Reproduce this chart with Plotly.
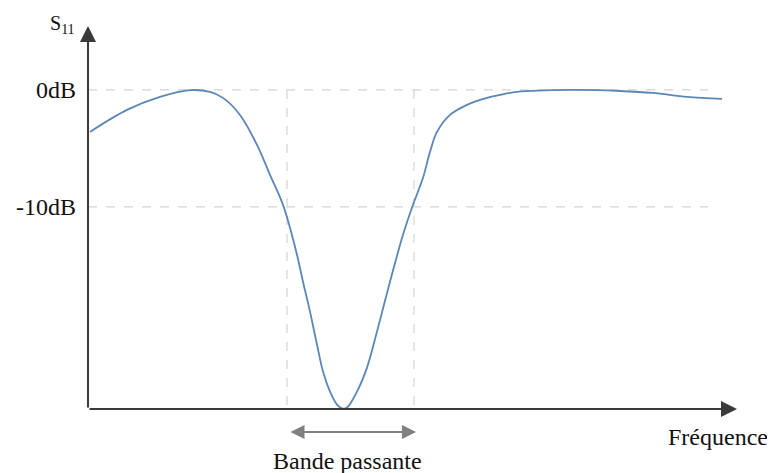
import plotly.graph_objects as go

# Frequency (arbitrary units) and S11 (dB)
freq = [2, 39, 72, 102, 122, 135, 152, 169, 182, 195, 202, 209, 215, 222, 229, 235,
        242, 249, 255, 259, 269, 279, 289, 302, 315, 325, 335, 342, 349, 362, 379,
        399, 412, 429, 482, 532, 565, 599, 634]
s11_db = [-3.59, -1.71, -0.60, -0.02, -0.17, -0.68, -2.14, -4.70, -7.26, -9.83,
          -11.79, -14.10, -16.41, -18.97, -21.79, -24.10, -25.81, -26.92, -27.26,
          -27.18, -25.81, -23.76, -20.68, -16.41, -12.39, -9.83, -7.52, -5.30, -3.59,
          -2.14, -1.28, -0.68, -0.43, -0.17, 0.0, -0.09, -0.26, -0.60, -0.77]

ref_levels = [0, -10]
ref_labels = ["0dB", "-10dB"]
band_edges = [199, 326]

X_MAX = 649
Y_MIN, Y_MAX = -27.3, 5.47
HLINE_END = 620

fig = go.Figure()
fig.add_trace(go.Scatter(x=freq, y=s11_db, mode="lines",
                         line=dict(color="#5a86b8", width=1.8, shape="spline", smoothing=1.0),
                         hoverinfo="skip"))

serif = "Liberation Serif, Times New Roman, serif"
shapes = []
for lv in ref_levels:
    shapes.append(dict(type="line", xref="x", yref="y", x0=0, x1=HLINE_END, y0=lv, y1=lv,
                       line=dict(color="#d4d4d4", width=1.2, dash="dash"), layer="below"))
for be in band_edges:
    shapes.append(dict(type="line", xref="x", yref="y", x0=be, x1=be, y0=0, y1=Y_MIN,
                       line=dict(color="#d4d4d4", width=1.2, dash="dash"), layer="below"))

annotations = []
# axes with arrows
annotations.append(dict(x=X_MAX, y=Y_MIN, ax=0, ay=Y_MIN, xref="x", yref="y", axref="x", ayref="y",
                        text="", showarrow=True, arrowhead=2, arrowsize=1.6, arrowwidth=2,
                        arrowcolor="#3a3a3a"))
annotations.append(dict(x=0, y=Y_MAX, ax=0, ay=Y_MIN, xref="x", yref="y", axref="x", ayref="y",
                        text="", showarrow=True, arrowhead=2, arrowsize=1.6, arrowwidth=2,
                        arrowcolor="#3a3a3a"))
for lv, lab in zip(ref_levels, ref_labels):
    annotations.append(dict(x=-0.0154, y=lv, xref="paper", yref="y", text=lab, showarrow=False,
                            xanchor="right", yanchor="middle",
                            font=dict(family=serif, size=24, color="#111")))
annotations.append(dict(x=-0.04, y=1.005, xref="paper", yref="paper", text="S<sub>11</sub>",
                        showarrow=False, xanchor="center", yanchor="middle",
                        font=dict(family=serif, size=20, color="#111")))
annotations.append(dict(x=0.971, y=-0.073, xref="paper", yref="paper", text="Fréquence",
                        showarrow=False, xanchor="center", yanchor="middle",
                        font=dict(family=serif, size=24, color="#111")))
# band arrow
annotations.append(dict(x=band_edges[1] + 2, y=-0.06, ax=band_edges[0] + 2, ay=0,
                        xref="x", yref="paper", axref="x", ayref="pixel",
                        text="", showarrow=True, arrowhead=2, arrowside="end+start",
                        arrowsize=1.4, arrowwidth=2, arrowcolor="#808080"))
annotations.append(dict(x=0.4006, y=-0.136, xref="paper", yref="paper", text="Bande passante",
                        showarrow=False, xanchor="center", yanchor="middle",
                        font=dict(family=serif, size=24, color="#111")))

fig.update_layout(
    width=767, height=465,
    margin=dict(l=80, r=38, t=18, b=64),
    paper_bgcolor="white", plot_bgcolor="white",
    showlegend=False,
    xaxis=dict(range=[0, X_MAX], visible=False, fixedrange=True),
    yaxis=dict(range=[Y_MIN, Y_MAX], visible=False, fixedrange=True),
    shapes=shapes, annotations=annotations,
)

fig.write_html("out.html")
